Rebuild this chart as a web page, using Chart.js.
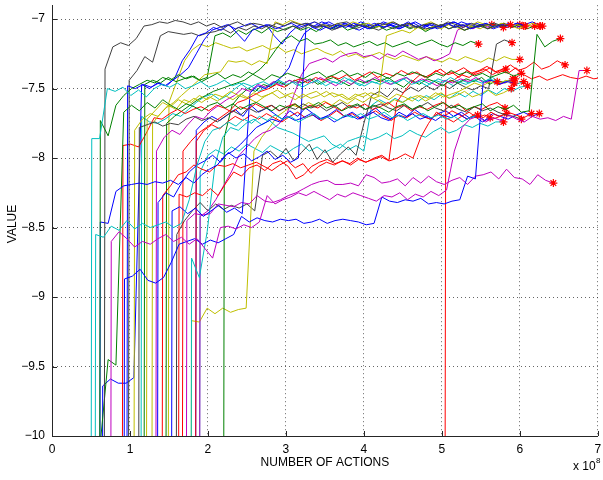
<!DOCTYPE html>
<html>
<head>
<meta charset="utf-8">
<script src="https://cdn.jsdelivr.net/npm/chart.js@4/dist/chart.umd.min.js"></script>
<style>
  html, body { margin: 0; padding: 0; background: #fff; }
  #wrap { width: 603px; height: 480px; }
</style>
</head>
<body>
<div id="wrap"><canvas id="chart" width="603" height="480"></canvas></div>
<script>
// x axis is in units of 1e8 actions, one sample every 0.1e8 actions
const xTicks = [0, 1, 2, 3, 4, 5, 6, 7];
const yTicks = [-10, -9.5, -9, -8.5, -8, -7.5, -7];
const STEP = 0.1;

// x of the first sample of each run (first sample = value before learning kicks in)
const runStart = [0.41, 0.46, 0.52, 0.58, 0.66, 0.52, 0.62, 0.83, 0.87, 0.89, 0.96, 1.02,
  1.09, 1.12, 1.19, 1.24, 1.26, 0.81, 1.32, 1.37, 1.44, 1.53, 1.58, 1.63,
  1.69, 1.75, 1.80, 2.11, 4.95, 1.69, 0.55, 1.50, 1.05, 1.75, 1.40, 1.80];

// colour letter of each run (matlab colour order)
const runColor = ['c','c','g','k','m','b','g','b','b','k','y','k',
  'g','y','y','m','b','r','r','g','b','r','r','m',
  'c','r','m','g','r','y','b','k','c','b','y','c'];

const run01 = [-40, -7.86,-7.86,-7.50,-7.52,-7.49,-7.55,-7.51,-7.56,-7.50,-7.47, -7.49,-7.46,-7.50,-7.48,-7.45,-7.49,-7.47,-7.44,-7.48,-7.46,
  -7.50,-7.47,-7.45,-7.48,-7.44,-7.47,-7.45,-7.49,-7.46,-7.44, -7.48,-7.45,-7.47,-7.43,-7.46,-7.48,-7.45,-7.47,-7.44,-7.46,
  -7.43,-7.47,-7.45,-7.48,-7.44,-7.46,-7.42,-7.45,-7.47,-7.44, -7.46,-7.43,-7.45];
const run02 = [-40, -8.55,-8.57,-8.49,-8.52,-8.45,-8.51,-8.47,-8.50,-8.48,-8.46, -8.50,-8.47,-8.30,-8.05,-7.88,-7.80,-7.78,-7.74,-7.77,-7.72,
  -7.75,-7.70,-7.73,-7.69,-7.72,-7.70,-7.74,-7.71,-7.68,-7.72, -7.70,-7.73,-7.69,-7.71,-7.68,-7.72,-7.70,-7.67,-7.71,-7.69,
  -7.73,-7.70,-7.68,-7.71,-7.69,-7.72,-7.70,-7.74,-7.71,-7.69];
const run03 = [-40, -7.73,-7.84,-7.62,-7.55,-7.50,-7.47,-7.44,-7.46,-7.42,-7.44, -7.40,-7.43,-7.41,-7.45,-7.42,-7.39,-7.43,-7.40,-7.42,-7.38,
  -7.41,-7.44,-7.40,-7.42,-7.39,-7.41,-7.43,-7.40,-7.38,-7.42, -7.40,-7.37,-7.41,-7.39,-7.42,-7.38,-7.40,-7.43,-7.39,-7.41,
  -7.38,-7.40,-7.42,-7.39,-7.41,-7.37,-7.40,-7.38,-7.41,-7.39, -7.42,-7.40,-7.38,-7.41,-7.39];
const run04 = [-40, -7.36,-7.20,-7.17,-7.19,-7.14,-7.05,-7.04,-7.02,-7.03,-7.01, -7.02,-7.04,-7.02,-7.05,-7.03,-7.06,-7.04,-7.02,-7.05,-7.03,
  -7.04,-7.06,-7.03,-7.05,-7.02,-7.04,-7.03,-7.06,-7.04,-7.05, -7.03,-7.02,-7.05,-7.04,-7.06,-7.03,-7.04,-7.02,-7.05,-7.03,
  -7.06,-7.04,-7.03,-7.05,-7.02,-7.04,-7.06,-7.03,-7.05,-7.04, -7.03,-7.05,-7.04];
const run05 = [-40, -8.60,-8.53,-8.58,-8.64,-8.60,-8.62,-8.58,-8.55,-8.60,-8.57, -8.62,-8.58,-8.65,-8.72,-8.50,-8.49,-8.51,-8.48,-8.50,-8.46,
  -8.27,-8.33,-8.30,-8.28,-8.25,-8.27,-8.24,-8.27,-8.30,-8.26, -8.28,-8.25,-8.27,-8.29,-8.31,-8.27,-8.28,-8.25,-8.30,-8.26,
  -8.28,-8.24,-8.27,-8.23, -7.95,-7.78,-7.72,-7.70,-7.74,-7.71,-7.73,-7.69,-7.72,-7.74, -7.70,-7.72,-7.71,-7.73,-7.70,-7.72,-7.37,-7.37];
const run06 = [-40, -8.46,-8.47,-8.24,-8.20,-8.19,-8.18,-8.19,-8.17,-8.18,-8.16, -8.19,-8.14,-8.18,-8.12,-8.08,-8.05,-7.98,-7.95,-7.90,-7.84,
  -7.78,-7.75,-7.72,-7.74,-7.70,-7.73,-7.71,-7.68,-7.72,-7.70, -7.74,-7.71,-7.69,-7.72,-7.70,-7.67,-7.71,-7.73,-7.69,-7.71,
  -7.68,-7.72,-7.70,-7.73,-7.69,-7.71,-7.68,-7.72,-7.70,-7.74, -7.71];
const run07 = [-10.05,-9.45,-9.49,-7.67,-7.62,-7.66,-7.60,-7.64,-7.58,-7.62, -7.65,-7.61,-7.63,-7.66,-7.62,-7.60,-7.64,-7.61,-7.65,-7.62,
  -7.60,-7.63,-7.66,-7.62,-7.64,-7.61,-7.65,-7.63,-7.60,-7.64, -7.62,-7.66,-7.63,-7.61,-7.65,-7.62,-7.64,-7.67,-7.63,-7.61,
  -7.65,-7.62,-7.66,-7.63,-7.60,-7.64,-7.62,-7.65,-7.63,-7.61, -7.66,-7.63,-7.65,-7.62,-7.67,-7.66,-7.11,-7.20,-7.16,-7.14];
const run08 = [-40, -8.87,-8.85,-8.80,-8.88,-8.90,-8.86,-8.75,-8.62,-8.60,-8.58, -8.62,-8.59,-8.61,-8.58,-8.55,-8.42,-8.46,-8.43,-8.45,-8.46,
  -8.44,-8.45,-8.44,-8.47,-8.46,-8.44,-8.47,-8.45,-8.44,-8.45, -8.46,-8.48,-8.47,-8.28,-8.31,-8.32,-8.30,-8.31,-8.29,-8.33,
  -8.32,-8.33,-8.31,-8.30,-8.13,-8.15,-7.45, -7.44,-7.47,-7.45,-7.46];
const run09 = [-40, -7.48,-7.50,-7.47,-7.49,-7.46,-7.48,-7.43,-7.30,-7.22,-7.12, -7.10,-7.06,-7.08,-7.04,-7.10,-7.16,-7.08,-7.06,-7.04,-7.07,
  -7.05,-7.03,-7.06,-7.04,-7.02,-7.05,-7.07,-7.04,-7.06,-7.03, -7.05,-7.07,-7.04,-7.06,-7.03,-7.05,-7.02,-7.06,-7.04,-7.07,
  -7.05,-7.03,-7.06,-7.04,-7.07,-7.05,-7.03,-7.06,-7.04,-7.05, -7.03,-7.05];
const run10 = [-40, -7.44,-7.37,-7.27,-7.31,-7.12,-7.09,-7.10,-7.11,-7.10,-7.12, -7.10,-7.09,-7.07,-7.10,-7.06,-7.08,-7.05,-7.07,-7.04,-7.06,
  -7.08,-7.05,-7.07,-7.04,-7.06,-7.05,-7.08,-7.06,-7.04,-7.07, -7.05,-7.06,-7.08,-7.05,-7.07,-7.04,-7.06,-7.05,-7.07,-7.06,
  -7.04,-7.07,-7.05,-7.08,-7.06,-7.05,-7.07,-7.04,-7.06];
const run11 = [-40, -7.80,-7.72,-7.68,-7.70,-7.64,-7.60,-7.55,-7.50,-7.45,-7.40, -7.39,-7.38,-7.30,-7.31,-7.30,-7.33,-7.30,-7.32, -7.02,
  -7.04,-7.01,-7.03,-7.05,-7.02,-7.04,-7.06,-7.03,-7.05,-7.02, -7.04,-7.03,-7.06,-7.04,-7.02,-7.05,-7.03,-7.07,-7.04,-7.02,
  -7.05,-7.03,-7.06,-7.04,-7.05,-7.02,-7.04,-7.06,-7.03,-7.05, -7.04,-7.06,-7.03,-7.05];
const run12 = [-40, -7.78,-7.76,-7.74,-7.77,-7.75,-7.76,-7.72,-7.70,-7.73,-7.71, -7.74,-7.70,-7.66,-7.69,-7.64,-7.67,-7.65,-7.62,-7.66,-7.63,
  -7.65,-7.61,-7.64,-7.62,-7.66,-7.63,-7.60,-7.64,-7.62,-7.65, -7.63,-7.61,-7.64,-7.66,-7.62,-7.65,-7.63,-7.60,-7.64,-7.66,
  -7.62,-7.65,-7.67,-7.63,-7.66,-7.64,-7.67,-7.69,-7.70,-7.72];
const run13 = [-40, -7.47,-7.44,-7.46,-7.42,-7.45,-7.43,-7.41,-7.44,-7.42,-7.12, -7.10,-7.13,-7.08,-7.11,-7.07,-7.10,-7.06,-7.09,-7.07,-7.05,
  -7.08,-7.06,-7.09,-7.05,-7.07,-7.04,-7.08,-7.06,-7.03,-7.07, -7.05,-7.08,-7.06,-7.04,-7.07,-7.05,-7.09,-7.06,-7.04,-7.07,
  -7.05,-7.08,-7.06,-7.04,-7.07,-7.05,-7.03,-7.06,-7.04,-7.07,-7.05];
const run14 = [-40, -7.72,-7.66,-7.60,-7.63,-7.58,-7.61,-7.57,-7.60,-7.56,-7.59, -7.55,-7.58,-7.54,-7.57,-7.60,-7.56,-7.53,-7.57,-7.55,-7.58,
  -7.54,-7.57,-7.55,-7.52,-7.56,-7.54,-7.58,-7.55,-7.53,-7.57, -7.55,-7.58,-7.54,-7.56,-7.59,-7.55,-7.57,-7.53,-7.56,-7.54,
  -7.52,-7.49,-7.46,-7.48,-7.45,-7.47,-7.44,-7.46];
const run15 = [-40, -7.75,-7.68,-7.62,-7.65,-7.58,-7.60,-7.55,-7.58,-7.54,-7.56, -7.52,-7.55,-7.57,-7.53,-7.56,-7.54,-7.51,-7.55,-7.53,-7.57,
  -7.54,-7.52,-7.56,-7.53,-7.55,-7.58,-7.54,-7.56,-7.53,-7.55, -7.12,-7.10,-7.08,-7.10,-7.06,-7.08,-7.05,-7.07,-7.04,-7.06,
  -7.08,-7.05,-7.07,-7.04,-7.06,-7.03,-7.05,-7.07,-7.04,-7.06,-7.05];
const run16 = [-40, -7.95,-7.85,-7.80,-7.83,-7.76,-7.70,-7.72,-7.66,-7.62,-7.58, -7.55,-7.50,-7.52,-7.47,-7.49,-7.45,-7.48,-7.44,-7.46,-7.43,
  -7.46,-7.42,-7.45,-7.48,-7.44,-7.47,-7.43,-7.46,-7.42,-7.45, -7.47,-7.44,-7.42,-7.46,-7.43,-7.45,-7.48,-7.44,-7.46,-7.43,
  -7.45,-7.42,-7.46,-7.44,-7.47,-7.45,-7.43];
const run17 = [-40, -8.32,-8.25,-8.28,-8.18,-8.10,-8.05,-8.02,-7.98,-8.03,-7.96, -8.00,-7.97,-8.02,-7.99,-7.95,-8.01,-7.98,-8.03,-8.00,
  -7.03,-7.05,-7.02,-7.04,-7.06,-7.03,-7.05,-7.02,-7.04,-7.06, -7.03,-7.05,-7.07,-7.04,-7.02,-7.05,-7.03,-7.06,-7.04,-7.02,
  -7.05,-7.03,-7.06,-7.04,-7.07,-7.05,-7.03,-7.06,-7.04,-7.02,-7.05];
const run18 = [-40, -7.91,-7.90,-7.92,-7.82,-7.71,-7.72,-7.68,-7.65,-7.68,-7.65, -7.63,-7.66,-7.62,-7.64,-7.67,-7.63,-7.65,-7.61,-7.64,-7.62,
  -7.66,-7.63,-7.61,-7.65,-7.62,-7.64,-7.60,-7.63,-7.66,-7.62, -7.64,-7.61,-7.65,-7.63,-7.60,-7.64,-7.62,-7.66,-7.63,-7.65,
  -7.62,-7.60,-7.64,-7.61,-7.66,-7.63,-7.65,-7.62,-7.60,-7.64];
const run19 = [-40, -8.27,-8.20,-8.12,-8.10,-8.05,-8.08,-8.10,-8.05,-8.06,-8.04, -8.07,-8.05,-8.03,-8.06,-8.09,-8.05,-8.02,-8.07,-8.04,-8.11,
  -8.06,-8.03,-8.05,-8.02,-8.04,-8.00,-8.03,-8.01,-7.99,-8.02, -7.60,-7.52,-7.45,-7.40,-7.42,-7.37,-7.40,-7.38,-7.42,-7.37,
  -7.40,-7.38,-7.35,-7.39,-7.36];
const run20 = [-40, -7.75,-7.70,-7.66,-7.62,-7.58,-7.55,-7.52,-7.50,-7.48,-7.46, -7.44,-7.40,-7.36,-7.30,-7.22,-7.15,-7.12,-7.16,-7.14,-7.18,
  -7.17,-7.15,-7.19,-7.17,-7.20,-7.18,-7.16,-7.19,-7.17,-7.20, -7.18,-7.16,-7.19,-7.17,-7.15,-7.18,-7.20,-7.17,-7.19,-7.16,-7.18];
const run21 = [-40, -8.38,-8.35,-8.40,-8.36,-8.42,-8.38,-8.34,-8.39,-8.36,-8.40, -7.53,-7.48,-7.50,-7.46,-7.42,-7.35,-7.20,-7.10,-7.06,-7.08,
  -7.05,-7.07,-7.04,-7.06,-7.08,-7.05,-7.03,-7.06,-7.04,-7.07, -7.05,-7.03,-7.06,-7.04,-7.07,-7.05,-7.02,-7.04,-7.06,-7.03,-7.05,-7.04];
const run22 = [-40, -8.26,-8.28,-8.25,-8.27,-8.22,-8.27,-8.18,-8.10,-8.13,-8.07, -8.05,-8.09,-8.04,-8.02,-8.06,-8.15,-8.12,-8.06,-8.03,-8.01,
  -8.04,-8.02,-8.05,-8.01,-8.03,-8.00,-7.98,-8.02,-8.00,-7.97,-8.00, -7.85,-7.75,-7.67,-7.70,-7.66,-7.69,-7.72,-7.68,-7.71,-7.67,-7.70,-7.68];
const run23 = [-40, -7.95,-7.88,-7.82,-7.78,-7.74,-7.70,-7.66,-7.60,-7.58,-7.55, -7.52,-7.50,-7.47,-7.49,-7.45,-7.43,-7.46,-7.42,-7.44,-7.41,
  -7.43,-7.40,-7.44,-7.41,-7.38,-7.42,-7.39,-7.41,-7.37,-7.40, -7.38,-7.42,-7.39,-7.36,-7.40,-7.38,-7.35,-7.39,-7.37,-7.34,
  -7.38,-7.36,-7.33,-7.37,-7.35,-7.31,-7.36,-7.34,-7.30,-7.33];
const run24 = [-40, -8.45,-8.40,-8.41,-8.40,-8.33,-8.34,-8.35,-8.32,-8.33,-8.27, -8.31,-8.32,-8.30,-8.27,-8.25,-8.22,-8.19,-8.17,-8.16,-8.19,
  -8.19,-8.18,-8.20,-8.12,-8.14,-8.18,-8.17,-8.15,-8.20,-8.14, -8.18,-8.13,-8.17,-8.19,-8.16,-8.14,-8.19,-8.13,-8.12,-8.10,
  -8.15,-8.08,-8.14,-8.15,-8.19,-8.12,-8.16,-8.18];
const run25 = [-40, -8.72,-8.86,-8.53,-8.05,-7.85,-7.78,-7.80,-7.75,-7.72,-7.76, -7.73,-7.78,-7.80,-7.82,-7.85,-7.88,-7.86,-7.84,-7.90,-7.93,
  -7.88,-7.86,-7.84,-7.87,-7.85,-7.82,-7.86,-7.84,-7.80,-7.83, -7.85,-7.81,-7.78,-7.82,-7.80,-7.76,-7.78,-7.75,-7.77,-7.74,-7.74];
const run26 = [-40, -7.88,-7.80,-7.76,-7.79,-7.74,-7.70,-7.73,-7.69,-7.72,-7.68, -7.71,-7.74,-7.70,-7.67,-7.71,-7.69,-7.73,-7.70,-7.66,-7.70,
  -7.68,-7.72,-7.69,-7.66,-7.70,-7.73,-7.69,-7.71,-7.67,-7.70, -7.72,-7.68,-7.71,-7.74,-7.70,-7.67,-7.71,-7.69,-7.72,-7.70,-7.67,-7.69,-7.71,-7.68];
const run27 = [-40, -8.42,-8.38,-8.30,-8.20,-8.10,-7.98,-7.92,-7.86,-7.82,-7.80, -7.76,-7.70,-7.55,-7.40,-7.32,-7.30,-7.28,-7.31,-7.27,-7.25,
  -7.24,-7.27,-7.26,-7.29,-7.25,-7.27,-7.23,-7.26,-7.29,-7.27, -7.30,-7.28,-7.25, -7.08,-7.05,-7.07,-7.04,-7.06,-7.05,-7.03,-7.06,-7.04];
const run28 = [-40, -7.85,-7.62,-7.55,-7.50,-7.52,-7.47,-7.49,-7.45,-7.48,-7.44, -7.46,-7.43,-7.47,-7.44,-7.42,-7.45,-7.48,-7.44,-7.46,-7.43,
  -7.45,-7.42,-7.46,-7.49,-7.44,-7.47,-7.43,-7.45,-7.48,-7.44, -7.46,-7.43,-7.45,-7.42,-7.47,-7.44,-7.46,-7.43];
const run29 = [-40, -7.46,-7.44,-7.40,-7.42,-7.38,-7.36,-7.40,-7.37,-7.39,-7.35, -7.40,-7.43,-7.41,-7.44,-7.42,-7.40,-7.42,-7.43,-7.41,-7.43,-7.42];
const run30 = [-40, -9.17,-9.18,-9.08,-9.12,-9.08,-9.11,-9.09,-9.08, -7.95,-7.85,-7.78,-7.70,-7.66,-7.62,-7.64,-7.60,-7.63,-7.59,
  -7.62,-7.58,-7.61,-7.57,-7.60,-7.56,-7.59,-7.62,-7.58,-7.60, -7.57,-7.55,-7.59,-7.56,-7.53,-7.57,-7.55,-7.52,-7.56,-7.54,-7.51,-7.55,-7.53,-7.50];
const run31 = [-40, -9.64,-9.59,-9.62,-9.62,-9.58,-7.47,-7.50,-7.46,-7.48,-7.44, -7.40,-7.35,-7.25,-7.15,-7.08,-7.06,-7.04,-7.07,-7.05,-7.03,
  -7.06,-7.04,-7.12,-7.18,-7.10,-7.05,-7.03,-7.06,-7.04,-7.02, -7.05,-7.03,-7.06,-7.04,-7.07,-7.05,-7.02,-7.04,-7.06,-7.03,
  -7.05,-7.07,-7.04,-7.06,-7.03,-7.05,-7.02,-7.04,-7.06,-7.03, -7.05,-7.04,-7.06,-7.03,-7.05];
const run32 = [-40, -8.55,-8.45,-8.38,-8.32,-8.38,-8.33,-8.37,-8.34,-8.36,-8.33, -8.38,-7.98,-7.95,-8.00,-7.93,-8.02,-7.96,-7.90,-8.01,-7.94,
  -8.03,-7.97,-7.92,-7.98,-7.75,-7.55,-7.52,-7.56,-7.50,-7.53, -7.49,-7.52,-7.48,-7.51,-7.47,-7.50,-7.46,-7.49,-7.51,-7.48, -7.50,-7.18,-7.15,-7.17];
const run33 = [-40, -7.70,-7.74,-7.75,-7.72,-7.68,-7.70,-7.65,-7.60,-7.56,-7.54, -7.58,-7.55,-7.50,-7.46,-7.48,-7.52,-7.49,-7.45,-7.47,-7.44,
  -7.48,-7.45,-7.43,-7.47,-7.44,-7.46,-7.42,-7.45,-7.48,-7.44, -7.46,-7.43,-7.47,-7.45,-7.42,-7.46,-7.44,-7.47,-7.43,-7.45,
  -7.48,-7.44,-7.46,-7.43,-7.45,-7.42,-7.46,-7.44,-7.47,-7.45];
const run34 = [-40, -7.80,-7.74,-7.70,-7.73,-7.69,-7.65,-7.70,-7.62,-7.67,-7.64, -7.68,-7.72,-7.66,-7.70,-7.64,-7.68,-7.72,-7.69,-7.65,-7.70,
  -7.67,-7.71,-7.68,-7.64,-7.69,-7.72,-7.67,-7.70,-7.65,-7.69, -7.72,-7.68,-7.66,-7.70,-7.67,-7.71,-7.69,-7.73,-7.68,-7.70,-7.72,-7.69,-7.67,-7.70,-7.68];
const run35 = [-40, -7.60,-7.45,-7.30,-7.22,-7.18,-7.20,-7.17,-7.19,-7.21,-7.20, -7.23,-7.21,-7.19,-7.22,-7.20,-7.24,-7.22,-7.25,-7.23,-7.21,
  -7.24,-7.26,-7.23,-7.27,-7.25,-7.28,-7.26,-7.24,-7.27,-7.29, -7.26,-7.28,-7.30,-7.27,-7.29,-7.31,-7.28,-7.30,-7.27,-7.29,
  -7.31,-7.28,-7.30,-7.27,-7.29,-7.29];
const run36 = [-40, -8.10,-7.98,-7.94,-7.97,-7.92,-7.95,-7.90,-7.93,-7.96,-7.91, -7.94,-7.97,-7.93,-7.90,-7.95,-7.92,-7.96,-7.93,-7.90,-7.94,
  -7.91,-7.95,-7.62,-7.58,-7.61,-7.57,-7.60,-7.56,-7.59,-7.55, -7.58,-7.54,-7.57,-7.53,-7.56,-7.52,-7.55,-7.51,-7.54,-7.50,-7.52,-7.49,-7.48];

const runs = [run01, run02, run03, run04, run05, run06, run07, run08, run09, run10, run11, run12,
  run13, run14, run15, run16, run17, run18, run19, run20, run21, run22, run23, run24,
  run25, run26, run27, run28, run29, run30, run31, run32, run33, run34, run35, run36];

const palette = {
  b: '#0000ff', g: '#008000', r: '#ff0000', c: '#00bfbf',
  m: '#bf00bf', y: '#bfbf00', k: '#404040'
};

const FONT = '"Liberation Sans", Arial, Helvetica, sans-serif';
Chart.defaults.font.family = FONT;
Chart.defaults.color = '#000';

const minusLabel = v => (v < 0 ? '\u2212' : '') + Math.abs(v);

const datasets = runs.map((vals, i) => ({
  data: vals.map((v, k) => ({x: runStart[i] + k * STEP, y: v})),
  borderColor: palette[runColor[i]],
  borderWidth: 1,
  tension: 0,
  clip: 0,
  pointStyle: 'star',
  pointRadius: ctx => ctx.dataIndex === vals.length - 1 ? 4 : 0,
  pointBorderColor: '#ff0000',
  pointBackgroundColor: '#ff0000',
  pointBorderWidth: 1.2,
  pointHitRadius: 0,
}));

// matlab look: inward tick marks, axis labels, exponent
const matlabFrame = {
  id: 'matlabFrame',
  afterDraw(chart) {
    const {ctx, chartArea: a, scales: {x, y}} = chart;
    ctx.save();
    ctx.strokeStyle = '#262626';
    ctx.lineWidth = 1;
    ctx.beginPath();
    x.ticks.forEach(t => {
      const px = Math.round(x.getPixelForValue(t.value)) + 0.5;
      ctx.moveTo(px, a.bottom);
      ctx.lineTo(px, a.bottom - 5);
    });
    y.ticks.forEach(t => {
      const py = Math.round(y.getPixelForValue(t.value)) + 0.5;
      ctx.moveTo(a.left, py);
      ctx.lineTo(a.left + 5, py);
    });
    ctx.stroke();

    ctx.fillStyle = '#000';
    ctx.font = '12px ' + FONT;
    ctx.textAlign = 'center';
    ctx.textBaseline = 'middle';
    ctx.fillText('NUMBER OF ACTIONS', (a.left + a.right) / 2, 463);
    ctx.save();
    ctx.translate(13, 224);
    ctx.rotate(-Math.PI / 2);
    ctx.fillText('VALUE', 0, 0);
    ctx.restore();
    ctx.textAlign = 'left';
    ctx.fillText('x 10', 573, 467);
    ctx.font = '8px ' + FONT;
    ctx.fillText('8', 596, 461);
    ctx.restore();
  }
};

new Chart(document.getElementById('chart'), {
  type: 'line',
  data: {datasets},
  options: {
    responsive: false,
    animation: false,
    layout: {padding: {top: 3, right: 2, bottom: 0, left: 0}},
    plugins: {legend: {display: false}, tooltip: {enabled: false}},
    scales: {
      x: {
        type: 'linear',
        min: xTicks[0],
        max: xTicks[xTicks.length - 1],
        afterBuildTicks: s => { s.ticks = xTicks.map(v => ({value: v})); },
        ticks: {font: {size: 12}, padding: 6, maxRotation: 0, callback: v => String(v)},
        grid: {color: 'rgba(0,0,0,0.6)', drawTicks: false, lineWidth: 1},
        border: {display: true, color: '#262626', width: 1, dash: [1, 3]},
        afterFit: s => { s.height = 44; s.paddingLeft = 0; s.paddingRight = 0; }
      },
      y: {
        type: 'linear',
        min: yTicks[0],
        max: -6.9,
        afterBuildTicks: s => { s.ticks = yTicks.map(v => ({value: v})); },
        ticks: {font: {size: 12}, padding: 7, callback: minusLabel},
        grid: {color: 'rgba(0,0,0,0.6)', drawTicks: false, lineWidth: 1},
        border: {display: true, color: '#262626', width: 1, dash: [1, 3]},
        afterFit: s => { s.width = 52; s.paddingTop = 0; s.paddingBottom = 0; }
      }
    }
  },
  plugins: [matlabFrame]
});
</script>
</body>
</html>
